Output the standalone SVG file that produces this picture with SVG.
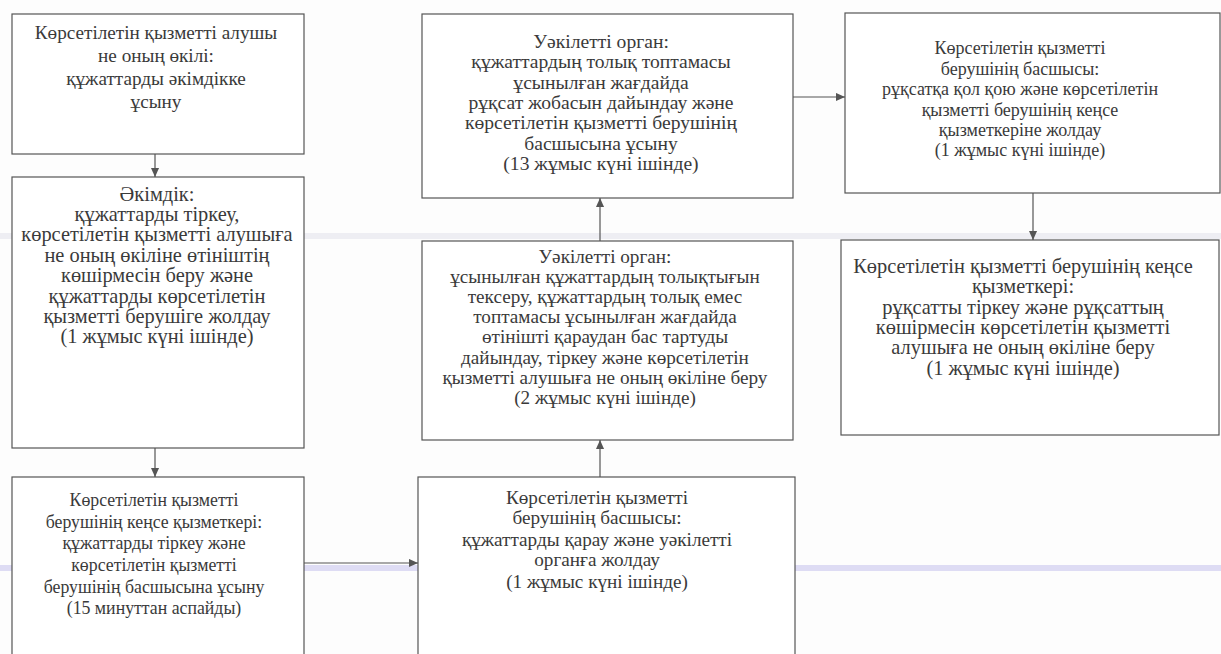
<svg xmlns="http://www.w3.org/2000/svg" width="1221" height="654" viewBox="0 0 1221 654">
<style>
.box{fill:#ffffff;stroke:#555555;stroke-width:1.2}
.t{font-family:"Liberation Serif",serif;font-size:19px;fill:#3a3a3a;text-anchor:middle}
.c{stroke:#555555;stroke-width:1.2;fill:none;marker-end:url(#ah)}
</style>
<defs>
<marker id="ah" viewBox="0 0 10 10" refX="10" refY="5" markerWidth="9" markerHeight="9" markerUnits="userSpaceOnUse" orient="auto">
<path d="M0,0.5 L10,5 L0,9.5 z" fill="#555555"/>
</marker>
</defs>
<rect x="0" y="0" width="1221" height="654" fill="#fdfdfd"/>
<rect x="0" y="233" width="1221" height="6" fill="#e4e4ec" opacity="0.6"/>
<rect x="0" y="565" width="1221" height="6" fill="#c9c6ee" opacity="0.6"/>

<g id="n1">
<rect class="box" x="12" y="14" width="292" height="140"/>
<text class="t" style="font-size:19.2px"><tspan x="156" y="39">Көрсетілетін қызметті алушы</tspan><tspan x="156" y="62">не оның өкілі:</tspan><tspan x="156" y="85">құжаттарды әкімдікке</tspan><tspan x="156" y="108">ұсыну</tspan></text>
</g>
<g id="n2">
<rect class="box" x="12" y="177" width="292" height="271"/>
<text class="t" style="font-size:20.4px"><tspan x="157" y="201">Әкімдік:</tspan><tspan x="157" y="221">құжаттарды тіркеу,</tspan><tspan x="157" y="241">көрсетілетін қызметті алушыға</tspan><tspan x="157" y="262">не оның өкіліне өтініштің</tspan><tspan x="157" y="282">көшірмесін беру және</tspan><tspan x="157" y="303">құжаттарды көрсетілетін</tspan><tspan x="157" y="323">қызметті берушіге жолдау</tspan><tspan x="157" y="343">(1 жұмыс күні ішінде)</tspan></text>
</g>
<g id="n3">
<rect class="box" x="12" y="477" width="292" height="200"/>
<text class="t" style="font-size:17.8px"><tspan x="154" y="506">Көрсетілетін қызметті</tspan><tspan x="154" y="528">берушінің кеңсе қызметкері:</tspan><tspan x="154" y="549">құжаттарды тіркеу және</tspan><tspan x="154" y="571">көрсетілетін қызметті</tspan><tspan x="154" y="593">берушінің басшысына ұсыну</tspan><tspan x="154" y="614">(15 минуттан аспайды)</tspan></text>
</g>
<g id="n4">
<rect class="box" x="418" y="477" width="377" height="200"/>
<text class="t" style="font-size:19.2px"><tspan x="597" y="504">Көрсетілетін қызметті</tspan><tspan x="597" y="524">берушінің басшысы:</tspan><tspan x="597" y="546">құжаттарды қарау және уәкілетті</tspan><tspan x="597" y="566">органға жолдау</tspan><tspan x="597" y="588">(1 жұмыс күні ішінде)</tspan></text>
</g>
<g id="n5">
<rect class="box" x="422" y="241" width="371" height="199"/>
<text class="t" style="font-size:19.2px"><tspan x="605" y="263">Уәкілетті орган:</tspan><tspan x="605" y="283">ұсынылған құжаттардың толықтығын</tspan><tspan x="605" y="303">тексеру, құжаттардың толық емес</tspan><tspan x="605" y="323">топтамасы ұсынылған жағдайда</tspan><tspan x="605" y="343">өтінішті қараудан бас тартуды</tspan><tspan x="605" y="364">дайындау, тіркеу және көрсетілетін</tspan><tspan x="605" y="384">қызметті алушыға не оның өкіліне беру</tspan><tspan x="605" y="404">(2 жұмыс күні ішінде)</tspan></text>
</g>
<g id="n6">
<rect class="box" x="422" y="14" width="371" height="184"/>
<text class="t" style="font-size:19.6px"><tspan x="601" y="48">Уәкілетті орган:</tspan><tspan x="601" y="68.3">құжаттардың толық топтамасы</tspan><tspan x="601" y="88.6">ұсынылған жағдайда</tspan><tspan x="601" y="109">рұқсат жобасын дайындау және</tspan><tspan x="601" y="129.3">көрсетілетін қызметті берушінің</tspan><tspan x="601" y="149.6">басшысына ұсыну</tspan><tspan x="601" y="170">(13 жұмыс күні ішінде)</tspan></text>
</g>
<g id="n7">
<rect class="box" x="845" y="13" width="375" height="180"/>
<text class="t" style="font-size:18px"><tspan x="1020" y="54">Көрсетілетін қызметті</tspan><tspan x="1020" y="75">берушінің басшысы:</tspan><tspan x="1020" y="95">рұқсатқа қол қою және көрсетілетін</tspan><tspan x="1020" y="116">қызметті  берушінің кеңсе</tspan><tspan x="1020" y="136">қызметкеріне жолдау</tspan><tspan x="1020" y="156">(1 жұмыс күні ішінде)</tspan></text>
</g>
<g id="n8">
<rect class="box" x="841" y="240" width="378" height="195"/>
<text class="t" style="font-size:20.4px"><tspan x="1023" y="273">Көрсетілетін қызметті берушінің кеңсе</tspan><tspan x="1023" y="293">қызметкері:</tspan><tspan x="1023" y="314">рұқсатты тіркеу және рұқсаттың</tspan><tspan x="1023" y="334">көшірмесін көрсетілетін қызметті</tspan><tspan x="1023" y="354">алушыға не оның өкіліне беру</tspan><tspan x="1023" y="375">(1 жұмыс күні ішінде)</tspan></text>
</g>

<g id="connectors">
<line class="c" x1="155" y1="154" x2="155" y2="177"/>
<line class="c" x1="155" y1="448" x2="155" y2="477"/>
<line class="c" x1="304" y1="563" x2="418" y2="563"/>
<line class="c" x1="600" y1="477" x2="600" y2="440"/>
<line class="c" x1="600" y1="241" x2="600" y2="198"/>
<line class="c" x1="793" y1="97" x2="845" y2="97"/>
<line class="c" x1="1033" y1="193" x2="1033" y2="240"/>
</g>
</svg>
